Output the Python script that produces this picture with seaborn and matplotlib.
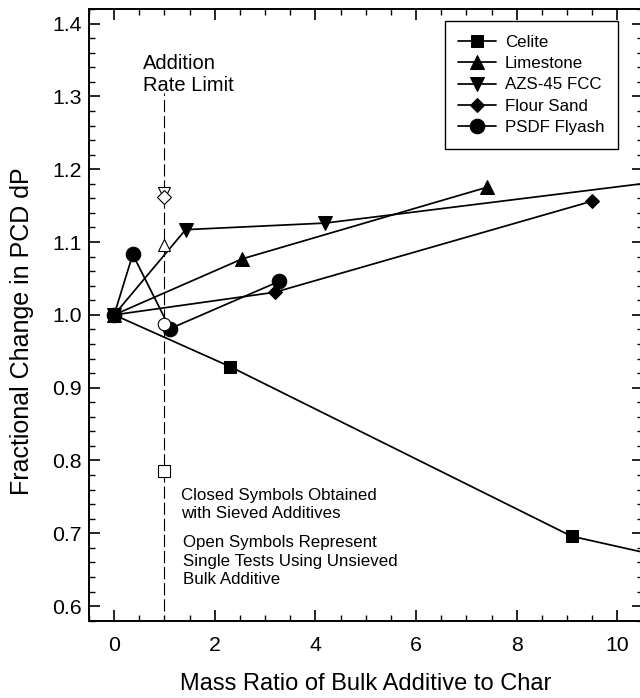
import numpy as np
import pandas as pd
import matplotlib
matplotlib.use("Agg")
import matplotlib.pyplot as plt
import seaborn as sns
from matplotlib.ticker import MultipleLocator

# ---------------- data ----------------
celite_x = [0.0, 2.30, 9.09, 12.0]
celite_y = [1.000, 0.929, 0.696, 0.651]

limestone_x = [0.0, 2.55, 7.40]
limestone_y = [1.000, 1.077, 1.175]

azs_x = [0.0, 1.42, 4.19, 12.0]
azs_y = [1.000, 1.117, 1.126, 1.193]

sand_x = [0.0, 3.19, 9.49]
sand_y = [1.000, 1.031, 1.156]

flyash_x = [0.0, 0.37, 1.11, 3.28]
flyash_y = [1.000, 1.083, 0.981, 1.046]

# open symbols: single tests with unsieved bulk additive
open_labels = ["Celite", "Limestone", "AZS-45 FCC", "Flour Sand", "PSDF Flyash"]
open_x = [1.0, 1.0, 1.0, 1.0, 1.0]
open_y = [0.785, 1.096, 1.167, 1.162, 0.988]

rate_limit_x = 1.0

# ---------------- style ----------------
sns.set_style("ticks")
plt.rcParams["font.family"] = ["Liberation Sans", "DejaVu Sans"]
plt.rcParams["text.color"] = "black"
plt.rcParams["axes.labelcolor"] = "black"

fig = plt.figure(figsize=(6.4, 6.98), dpi=100)
W, H = 640, 698
ax_left, ax_right, ax_top, ax_bot = 89, 642.5, 9, 620.7
ax = fig.add_axes([ax_left / W, 1 - ax_bot / H, (ax_right - ax_left) / W, (ax_bot - ax_top) / H])

lw = 1.25
series = [
    ("Celite", celite_x, celite_y, "s", 8.3),
    ("Limestone", limestone_x, limestone_y, "^", 10),
    ("AZS-45 FCC", azs_x, azs_y, "v", 10),
    ("Flour Sand", sand_x, sand_y, "D", 7.3),
    ("PSDF Flyash", flyash_x, flyash_y, "o", 10.5),
]
for name, xs, ys, mk, ms in series:
    sns.lineplot(x=xs, y=ys, ax=ax, color="black", linewidth=lw, marker=mk,
                 markersize=ms, markerfacecolor="black", markeredgecolor="black",
                 label=name, sort=False, zorder=3, clip_on=True)

open_markers = {"Celite": ("s", 8.5), "Limestone": ("^", 9), "AZS-45 FCC": ("v", 9),
                "Flour Sand": ("D", 7.5), "PSDF Flyash": ("o", 9)}
for lab, xv, yv in zip(open_labels, open_x, open_y):
    mk, ms = open_markers[lab]
    ax.plot([xv], [yv], linestyle="none", marker=mk, markersize=ms,
            markerfacecolor="white", markeredgecolor="black", markeredgewidth=0.8, zorder=4)

# addition-rate-limit dashed line
ax.plot([rate_limit_x, rate_limit_x], [0.594, 1.305], color="black", linewidth=0.8,
        linestyle=(0, (11, 3.5)), zorder=2)

ax.set_xlim(-0.5, 10.5)
ax.set_ylim(0.58, 1.42)
ax.xaxis.set_major_locator(MultipleLocator(2))
ax.xaxis.set_minor_locator(MultipleLocator(0.5))
ax.yaxis.set_major_locator(MultipleLocator(0.1))
ax.yaxis.set_minor_locator(MultipleLocator(0.02))
ax.yaxis.set_major_formatter(matplotlib.ticker.FormatStrFormatter("%.1f"))

ax.tick_params(which="both", direction="in", top=True, right=True, color="black",
               labelsize=15.3, labelcolor="black")
ax.tick_params(which="major", length=7.8, width=1.2)
ax.tick_params(which="minor", length=4.5, width=1.0)
ax.tick_params(axis="x", which="major", pad=11)
ax.tick_params(axis="y", which="major", pad=5)
for sp in ax.spines.values():
    sp.set_linewidth(1.4)
    sp.set_color("black")
    sp.set_visible(True)

ax.set_xlabel("Mass Ratio of Bulk Additive to Char", fontsize=17, color="black")
ax.set_ylabel("Fractional Change in PCD dP", fontsize=18, color="black")
ax.xaxis.set_label_coords(0.5, -0.085)
ax.yaxis.set_label_coords(-0.099, 0.4736)

# annotations
tfs = 14.5
ax.text(0.577, 1.338, "Addition", fontsize=tfs, va="baseline", ha="left")
ax.text(0.577, 1.307, "Rate Limit", fontsize=tfs, va="baseline", ha="left")
afs = 12.2
ax.text(1.32, 0.746, "Closed Symbols Obtained", fontsize=afs, va="baseline")
ax.text(1.32, 0.7206, "with Sieved Additives", fontsize=afs, va="baseline")
ax.text(1.36, 0.6808, "Open Symbols Represent", fontsize=afs, va="baseline")
ax.text(1.36, 0.6556, "Single Tests Using Unsieved", fontsize=afs, va="baseline")
ax.text(1.36, 0.6305, "Bulk Additive", fontsize=afs, va="baseline")

leg = ax.legend(loc="upper right", bbox_to_anchor=(618 / W, 1 - 21 / H),
                bbox_transform=fig.transFigure, fontsize=12.2, frameon=True,
                fancybox=False, edgecolor="black", framealpha=1, borderpad=0.8,
                handlelength=2.2, handletextpad=0.55, labelspacing=0.38,
                borderaxespad=0)
leg.get_frame().set_linewidth(1.0)

fig.savefig("out.png", dpi=100)
